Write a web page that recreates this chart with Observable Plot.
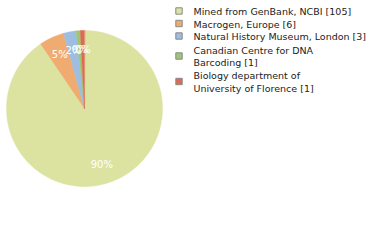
<!DOCTYPE html>
<html><head><meta charset="utf-8">
<script src="https://cdn.jsdelivr.net/npm/d3@7"></script>
<script src="https://cdn.jsdelivr.net/npm/@observablehq/plot@0.6"></script>
<style>body{margin:0;background:#fff}</style>
</head><body><div id="chart"></div>
<script>
const categories = ["Mined from GenBank, NCBI", "Macrogen, Europe", "Natural History Museum, London", "Canadian Centre for DNA Barcoding", "Biology department of University of Florence"];
const legendLabels = ["Mined from GenBank, NCBI [105]", "Macrogen, Europe [6]", "Natural History Museum, London [3]", "Canadian Centre for DNA\nBarcoding [1]", "Biology department of\nUniversity of Florence [1]"];
const counts = [105, 6, 3, 1, 1];
const colors = ["#dce3a0", "#efab70", "#9dbde2", "#9fc676", "#dd6b52"];

const W = 380, H = 240, cx = 84, cy = 108, R = 78, labelR = 59;
const total = d3.sum(counts);
const arcs = d3.pie().sort(null).value(d => d)(counts);

const poly = [];
arcs.forEach((a, i) => {
  const n = Math.max(2, Math.ceil((a.endAngle - a.startAngle) / 0.02));
  poly.push({k: i, x: cx, y: cy});
  for (let j = 0; j <= n; j++) {
    const t = a.startAngle + (a.endAngle - a.startAngle) * j / n;
    poly.push({k: i, x: cx + R * Math.sin(t), y: cy - R * Math.cos(t)});
  }
});
const labels = arcs.map((a, i) => {
  const m = (a.startAngle + a.endAngle) / 2;
  return {x: cx + labelR * Math.sin(m), y: cy - labelR * Math.cos(m), t: Math.floor(counts[i] / total * 100) + "%"};
});
const legendY = [10.5, 23, 35.5, 55.5, 81];
const legend = categories.map((c, i) => ({x: 178.5, tx: 193, y: legendY[i], t: legendLabels[i], c: colors[i]}));

const chart = Plot.plot({
  width: W, height: H, margin: 0,
  x: {domain: [0, W], range: [0, W], axis: null},
  y: {domain: [0, H], range: [0, H], axis: null},
  marks: [
    Plot.line(poly, {x: "x", y: "y", z: "k", fill: d => colors[d.k], stroke: d => colors[d.k], strokeWidth: 0.5, curve: "linear-closed"}),
    Plot.text(labels, {x: "x", y: "y", text: "t", fill: "white", fontSize: 10, fontFamily: "DejaVu Sans"}),
    Plot.dot(legend, {x: "x", y: "y", symbol: "square", r: 3.6, fill: "c", stroke: "#888", strokeWidth: 1}),
    Plot.text(legend, {x: "tx", y: "y", text: "t", textAnchor: "start", fill: "#222", fontSize: 9.5, fontFamily: "DejaVu Sans", lineHeight: 1.32})
  ]
});
document.getElementById("chart").appendChild(chart);
</script>
</body></html>
